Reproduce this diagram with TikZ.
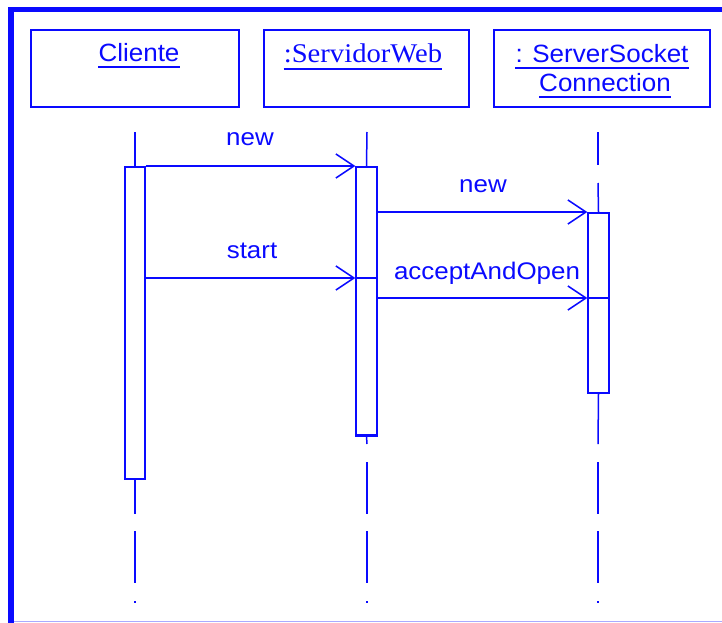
\documentclass[tikz,border=0pt]{standalone}
\usepackage{fontspec}
\usetikzlibrary{arrows.meta}
\newfontfamily\lblfont[FakeStretch=1.08]{Liberation Sans}
\newfontfamily\objsans[FakeStretch=1.04]{Liberation Sans}
\newfontfamily\objserif[FakeStretch=1.06]{Liberation Serif}
\definecolor{umlblue}{RGB}{10,10,255}
\definecolor{framelight}{RGB}{170,170,255}
\tikzset{
  umlline/.style={draw=umlblue, line width=1.5pt},
  objbox/.style={umlline, rectangle, inner sep=0pt, fill=white},
  actbar/.style={umlline, rectangle, inner sep=0pt, minimum width=20pt, fill=white},
  msg/.style={umlline, -{Straight Barb[length=18pt,width=24pt,line width=1.5pt]}},
  lifeline/.style={umlline},
  objtext/.style={text=umlblue, inner sep=0pt, anchor=base, font=\objsans\fontsize{25}{29}\selectfont},
  msgtext/.style={text=umlblue, inner sep=0pt, anchor=base, font=\lblfont\fontsize{24}{28}\selectfont},
  uline/.style={draw=umlblue, line width=2.6pt},
  lifedot/.style={fill=umlblue, inner sep=0pt, minimum size=2.5pt, rectangle}
}
\begin{document}
\begin{tikzpicture}[x=1pt, y=-1pt]
  \useasboundingbox (0,0) rectangle (722,623);
  \fill[white] (0,0) rectangle (722,623);

  % window frame
  \fill[umlblue] (8,7) rectangle (722,12);
  \fill[umlblue] (8,7) rectangle (14,623);
  \draw[framelight, line width=1pt] (14,621) -- (722,621);

  % object boxes
  \node[objbox, minimum width=208pt, minimum height=77pt] (bC) at (135,68.5) {};
  \node[objbox, minimum width=205pt, minimum height=77pt] (bS) at (366.5,68.5) {};
  \node[objbox, minimum width=216pt, minimum height=77pt] (bK) at (602,68.5) {};

  % object names
  \node[objtext] (tC) at (139,62) {Cliente};
  \node[objtext, font=\objserif\fontsize{27}{30}\selectfont] (tS) at (363,63) {:ServidorWeb};
  \node[objtext] (tK1) at (602,63) {: ServerSocket};
  \node[objtext] (tK2) at (605,92) {Connection};
  \foreach \t/\d in {tC/5, tS/6, tK1/5, tK2/5}
    \draw[uline] ([yshift=-\d pt]\t.base west) -- ([yshift=-\d pt]\t.base east);

  % activation bars
  \node[actbar, anchor=north, minimum height=312pt] (aC) at (135,166) {};
  \node[actbar, anchor=north, minimum width=21pt, minimum height=269pt] (aS) at (366.5,166) {};
  \node[actbar, anchor=north, minimum width=21pt, minimum height=180pt] (aK) at (598.5,212) {};
  \draw[umlblue, line width=3.5pt] ([yshift=1pt]aS.south west) -- ([yshift=1pt]aS.south east);

  % lifelines
  \coordinate (lC) at (135,132);
  \coordinate (lS) at (367,132);
  \coordinate (lK) at (598,132);
  \draw[lifeline] (lC) -- (aC.north);
  \draw[lifeline] (lS) -- (aS.north);
  \draw[lifeline] (lK) -- (598,165);
  \draw[lifeline] (598,183) -- (aK.north);
  \draw[lifeline] (aC.south) -- (135,514);
  \draw[lifeline] (aS.south) -- (367,444);
  \draw[lifeline] (aK.south) -- (598,444);
  \draw[lifeline] (367,462) -- (367,514);
  \draw[lifeline] (598,462) -- (598,514);
  \foreach \x in {135,367,598} {
    \draw[lifeline] (\x,531) -- (\x,583);
    \node[lifedot] at (\x,602) {};
  }

  % messages
  \coordinate (yStart) at (0,278);
  \coordinate (yAccept) at (0,298);
  \coordinate (yNew2) at (0,212);

  \draw[msg] (aC.north east) -- (aS.north west);
  \node[msgtext] (mNew1) at (250,146) {new};

  \draw[msg] (aC.east |- yStart) -- (aS.west |- yStart);
  \draw[umlline] (aS.west |- yStart) -- (aS.east |- yStart);
  \node[msgtext] (mStart) at (252,258) {start};

  \draw[msg] (aS.east |- yNew2) -- (aK.north west);
  \node[msgtext] (mNew2) at (483,192) {new};

  \draw[msg] (aS.east |- yAccept) -- (aK.west |- yAccept);
  \draw[umlline] (aK.west |- yAccept) -- (aK.east |- yAccept);
  \node[msgtext] (mAccept) at (487,279) {acceptAndOpen};
\end{tikzpicture}
\end{document}
